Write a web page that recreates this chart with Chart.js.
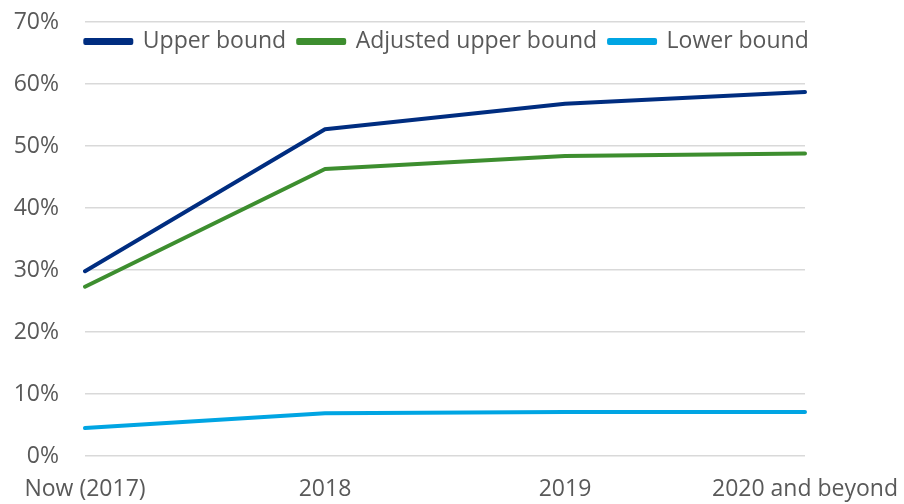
<!DOCTYPE html>
<html>
<head>
<meta charset="utf-8">
<script src="https://cdn.jsdelivr.net/npm/chart.js@4/dist/chart.umd.min.js"></script>
<style>
  html, body { margin: 0; padding: 0; background: #fff; }
  #wrap { width: 904px; height: 504px; position: relative; }
</style>
</head>
<body>
<div id="wrap"><canvas id="grafico"></canvas></div>
<script>
var categorias = ["Now (2017)", "2018", "2019", "2020 and beyond"];
var upperBound = [29.8, 52.7, 56.8, 58.7];
var adjustedUpper = [27.3, 46.3, 48.4, 48.8];
var lowerBound = [4.5, 6.9, 7.1, 7.1];
var etiquetas = ["Upper bound", "Adjusted upper bound", "Lower bound"];

var fuente = "'Open Sans', 'Liberation Sans', sans-serif";

var datos = {
    labels: categorias,
    datasets: [
        { label: etiquetas[0], data: upperBound, borderColor: '#002d80', backgroundColor: '#002d80' },
        { label: etiquetas[1], data: adjustedUpper, borderColor: '#3d8e2f', backgroundColor: '#3d8e2f' },
        { label: etiquetas[2], data: lowerBound, borderColor: '#00a5e3', backgroundColor: '#00a5e3' }
    ]
};

// legend drawn inside the plot area, taking no layout space
var legendaDentro = {
    id: 'legendaDentro',
    beforeLayout: function (chart) {
        var leg = chart.legend;
        if (leg && !leg._parcheado) {
            var fitOriginal = leg.fit;
            leg.fit = function () { fitOriginal.call(this); this.height = 0; };
            leg._parcheado = true;
        }
    },
    afterLayout: function (chart) {
        var leg = chart.legend;
        var ca = chart.chartArea;
        leg.left = ca.left - 36;
        leg.right = ca.right + 40;
        leg.top = ca.top - 4;
        leg.height = 60;
        leg.bottom = leg.top + 60;
        leg.width = leg.right - leg.left;
    }
};

var opciones = {
    responsive: false,
    animation: false,
    layout: { padding: { top: 22, right: 99, bottom: 0, left: 12 } },
    elements: {
        line: { borderWidth: 4, tension: 0, borderCapStyle: 'round', borderJoinStyle: 'round', fill: false },
        point: { radius: 0, hoverRadius: 0 }
    },
    plugins: {
        legend: {
            position: 'top',
            align: 'center',
            labels: {
                boxWidth: 46,
                boxHeight: 3,
                padding: 12,
                color: '#595959',
                font: { family: fuente, size: 23 }
            }
        },
        tooltip: { enabled: false }
    },
    scales: {
        x: {
            offset: false,
            grid: { display: false, drawTicks: false },
            border: { display: false },
            ticks: { color: '#595959', padding: 20, maxRotation: 0, font: { family: fuente, size: 23 } },
            afterFit: function (scale) {
                scale.height = 48;
                scale.paddingLeft = 0;
                scale.paddingRight = 0;
            }
        },
        y: {
            min: 0,
            max: 70,
            grid: { color: '#d9d9d9', lineWidth: 1.5, drawTicks: false },
            border: { display: false },
            ticks: {
                stepSize: 10,
                padding: 26,
                color: '#595959',
                font: { family: fuente, size: 23 },
                callback: function (v) { return v + '%'; }
            },
            afterFit: function (scale) {
                scale.width = 73;
                scale.paddingTop = 0;
                scale.paddingBottom = 0;
            }
        }
    }
};

var ctx = document.getElementById('grafico');
ctx.width = 904;
ctx.height = 504;
var grafico = new Chart(ctx, { type: 'line', data: datos, options: opciones, plugins: [legendaDentro] });
</script>
</body>
</html>
